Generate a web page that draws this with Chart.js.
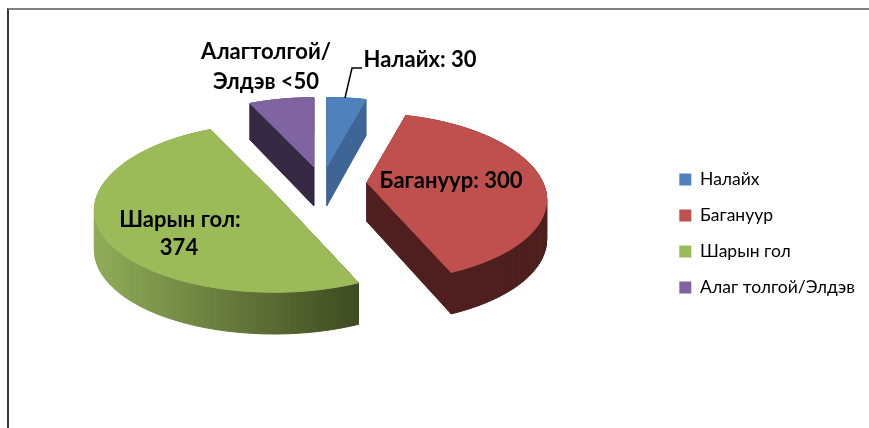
<!DOCTYPE html>
<html>
<head>
<meta charset="utf-8">
<script src="https://cdn.jsdelivr.net/npm/chart.js@4"></script>
<style>
body { margin: 0; background: #fff; }
#frame { position: absolute; left: 7px; top: 8px; right: 0; bottom: 0; border-left: 2px solid #3a3a3a; border-top: 2px solid #808080; }
#myChart { position: absolute; left: 0; top: 0; }
</style>
</head>
<body>
<div id="frame"></div>
<canvas id="myChart" width="869" height="428"></canvas>
<script>
const categories = ['Налайх', 'Багануур', 'Шарын гол', 'Алаг толгой/Элдэв']
const values = [30, 300, 374, 50]
const topColors = ['#4F81BD', '#C0504D', '#9BBB59', '#8064A2']
const sideColors = ['#3E6596', '#4E1F1E', null, '#352943']
const explode = [160, 180, 208, 160]
const fontName = 'Lato, "Noto Sans", sans-serif'

// text, x, y of the data labels
const dataLabels = [
    ['Налайх: 30', 420, 60],
    ['Алагтолгой/', 266, 52],
    ['Элдэв <50', 266, 82],
    ['Багануур: 300', 451, 181],
    ['Шарын гол:', 180, 220],
    ['374', 179, 248]
]

// fake 3d look of the pie
const pieX = 322
const pieY = 184
const squash = 0.44
const depth = 39

function project(arc, ox, oy, rx, ry, d) {
    const t = ry / arc.outerRadius
    // nearer part of the pie looks bigger
    const w = 1 + 0.195 * t + 0.087 * t * t
    return {
        x: pieX + ox + rx * w,
        y: pieY + squash * (oy + ry * w) + d * (1 + 0.07 * t)
    }
}

function sliceRing(arc) {
    const steps = Math.ceil((arc.endAngle - arc.startAngle) / 0.03)
    let ring = [[0, 0]]
    for (let i = 0; i <= steps; i++) {
        const a = arc.startAngle + (arc.endAngle - arc.startAngle) * i / steps
        ring.push([Math.cos(a) * arc.outerRadius, Math.sin(a) * arc.outerRadius])
    }
    ring.push([0, 0])
    return ring
}

function fillPoly(ctx, list) {
    ctx.beginPath()
    list.forEach((p, i) => i ? ctx.lineTo(p.x, p.y) : ctx.moveTo(p.x, p.y))
    ctx.closePath()
    ctx.fill()
    ctx.stroke()
}

const pie3d = {
    id: 'pie3d',
    beforeDatasetDraw(chart) {
        const ctx = chart.ctx
        chart.getDatasetMeta(0).data.forEach((arc, idx) => {
            const mid = (arc.startAngle + arc.endAngle) / 2
            const ox = Math.cos(mid) * arc.options.offset / 4
            const oy = Math.sin(mid) * arc.options.offset / 4
            const ring = sliceRing(arc)
            const top = ring.map(p => project(arc, ox, oy, p[0], p[1], 0))
            const bottom = ring.map(p => project(arc, ox, oy, p[0], p[1], depth))

            let side = sideColors[idx]
            if (!side) {
                const xs = top.map(p => p.x)
                side = ctx.createLinearGradient(Math.min(...xs), 0, Math.max(...xs), 0)
                side.addColorStop(0, '#90AC58')
                side.addColorStop(1, '#3E4A20')
            }
            ctx.fillStyle = side
            ctx.strokeStyle = side
            ctx.lineWidth = 1
            for (let i = 0; i < ring.length - 1; i++) {
                fillPoly(ctx, [top[i], top[i + 1], bottom[i + 1], bottom[i]])
            }
            ctx.fillStyle = topColors[idx]
            ctx.strokeStyle = topColors[idx]
            fillPoly(ctx, top)
        })
        return false
    },
    afterDraw(chart) {
        const ctx = chart.ctx
        ctx.save()
        ctx.strokeStyle = '#000'
        ctx.lineWidth = 1.5
        ctx.beginPath()
        ctx.moveTo(345, 98)
        ctx.lineTo(352, 68)
        ctx.lineTo(362, 68)
        ctx.stroke()
        ctx.fillStyle = '#000'
        ctx.font = 'bold 22px ' + fontName
        ctx.textAlign = 'center'
        ctx.textBaseline = 'middle'
        dataLabels.forEach(l => ctx.fillText(l[0], l[1], l[2]))
        ctx.restore()
    }
}

const chart = new Chart(document.getElementById('myChart').getContext('2d'), {
    type: 'pie',
    data: {
        labels: categories,
        datasets: [{
            data: values,
            backgroundColor: topColors,
            offset: explode,
            borderWidth: 0
        }]
    },
    options: {
        responsive: false,
        animation: false,
        radius: 176,
        layout: { padding: { top: 39, right: 4 } },
        plugins: {
            tooltip: { enabled: false },
            legend: {
                position: 'right',
                labels: {
                    boxWidth: 12,
                    boxHeight: 12,
                    padding: 18.5,
                    color: '#000',
                    font: { family: fontName, size: 17.5 }
                }
            }
        }
    },
    plugins: [pie3d]
})
</script>
</body>
</html>
